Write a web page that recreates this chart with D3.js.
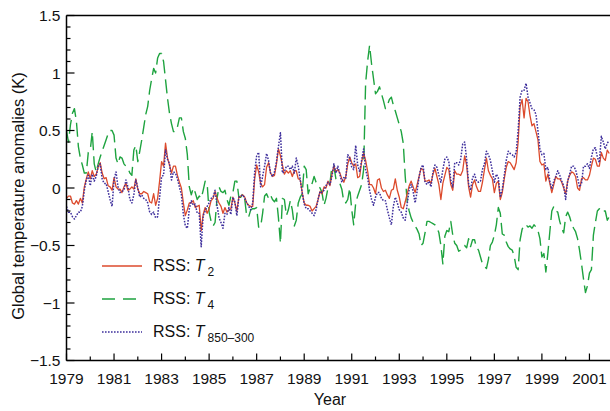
<!DOCTYPE html>
<html>
<head>
<meta charset="utf-8">
<script src="https://cdn.jsdelivr.net/npm/d3@7"></script>
<style>
  html, body { margin: 0; padding: 0; background: #fff; }
  svg { display: block; font-family: "Liberation Sans", Arial, Helvetica, sans-serif; }
</style>
</head>
<body>
<svg id="chart" width="610" height="411"></svg>
<script>
// ---- data (monthly anomalies, K), Jan 1979 onward ----
const startYear = 1979;
const seriesNames = ["T2", "T4", "T850-300"];

const t2 = [
-0.09,-0.07,-0.07,-0.13,-0.14,-0.11,-0.14,-0.09,-0.13,0.01,
0.08,0.14,0.08,0.15,0.10,0.12,0.18,0.22,0.13,0.08,
0.09,0.02,0.01,-0.02,0.09,0.01,-0.01,-0.01,-0.04,0.01,
0.04,-0.02,-0.01,0.01,-0.01,0.08,-0.01,-0.05,-0.05,-0.03,
-0.04,-0.05,-0.12,-0.13,-0.05,-0.15,-0.09,0.06,0.23,0.19,
0.39,0.26,0.20,0.13,0.19,0.19,0.11,0.05,0.00,-0.13,
-0.24,-0.19,-0.13,-0.13,-0.11,-0.17,-0.16,-0.15,-0.37,-0.23,
-0.17,-0.22,-0.18,-0.11,-0.09,-0.03,-0.09,-0.13,-0.16,-0.22,
-0.17,-0.21,-0.19,-0.18,-0.08,-0.13,-0.20,-0.08,-0.07,-0.06,
-0.08,-0.13,-0.15,-0.16,-0.16,0.08,0.20,0.14,0.04,0.01,
0.03,0.18,0.22,0.13,0.10,0.11,0.21,0.34,0.28,0.20,
0.12,0.15,0.13,0.15,0.10,0.15,0.15,0.08,0.07,-0.04,
-0.13,-0.15,-0.15,-0.16,-0.20,-0.18,-0.16,-0.10,-0.03,-0.05,
0.01,0.00,0.06,0.02,0.12,0.19,0.14,0.16,0.13,0.08,
0.05,0.10,0.21,0.27,0.22,0.19,0.21,0.09,0.10,0.23,
0.30,0.24,0.15,0.03,0.03,0.00,-0.05,0.07,0.08,0.00,
-0.03,-0.02,-0.06,-0.09,-0.02,-0.01,0.08,-0.02,-0.08,-0.17,
-0.18,-0.12,-0.05,0.02,0.06,0.01,-0.04,0.03,0.10,0.17,
0.16,0.06,0.06,0.07,0.04,0.12,0.17,0.10,0.03,-0.10,
0.04,0.11,0.18,0.16,0.03,-0.02,0.15,0.12,0.12,0.11,
0.15,0.28,0.20,0.01,-0.08,0.03,0.07,0.01,-0.03,-0.03,
0.05,0.16,0.26,0.15,0.11,0.08,-0.04,0.04,0.06,-0.10,
-0.04,0.08,0.18,0.23,0.22,0.19,0.16,0.22,0.40,0.71,
0.77,0.61,0.78,0.75,0.63,0.54,0.56,0.49,0.42,0.23,
0.20,0.21,0.06,0.12,0.04,-0.04,0.03,0.10,0.08,0.08,
0.05,0.00,-0.05,0.06,0.11,0.14,0.13,0.10,0.00,-0.02,
0.08,0.09,0.07,0.07,0.11,0.19,0.26,0.25,0.19,0.19,
0.31,0.26,0.24,0.33,0.30];

const t4 = [
0.50,0.40,0.55,0.65,0.69,0.58,0.36,0.26,0.20,0.13,
0.13,0.31,0.33,0.49,0.21,0.14,0.21,0.27,0.32,0.37,
0.42,0.47,0.50,0.50,0.46,0.26,0.21,0.27,0.26,0.21,
0.19,0.17,0.13,0.11,0.33,0.37,0.23,0.32,0.42,0.53,
0.64,0.71,0.85,0.95,1.04,1.00,1.13,1.17,1.17,1.10,
0.94,0.78,0.65,0.56,0.49,0.49,0.53,0.61,0.61,0.49,
0.43,0.29,0.01,-0.06,0.00,-0.04,-0.10,-0.07,-0.09,-0.02,
0.06,0.04,-0.21,-0.29,-0.33,-0.30,-0.09,0.01,-0.03,-0.04,
-0.02,-0.10,-0.15,-0.07,-0.04,0.06,0.06,-0.08,-0.08,-0.05,
-0.10,-0.25,-0.25,-0.19,-0.18,-0.18,-0.17,-0.34,-0.34,-0.22,
-0.07,-0.05,-0.09,-0.06,-0.10,-0.12,-0.09,-0.26,-0.48,-0.09,
-0.10,-0.24,-0.19,-0.11,-0.19,-0.33,-0.28,-0.13,-0.08,-0.05,
0.19,0.16,-0.05,0.00,0.04,0.10,0.05,0.02,0.00,-0.04,
-0.15,-0.09,0.00,0.04,0.19,0.19,0.08,0.06,0.04,-0.01,
-0.12,-0.13,-0.10,0.00,-0.19,-0.32,-0.13,-0.07,-0.02,0.03,
0.16,0.91,1.10,1.24,1.08,0.95,0.82,0.84,0.88,0.82,
0.76,0.69,0.72,0.77,0.79,0.72,0.67,0.61,0.55,0.49,
0.39,0.10,-0.12,-0.20,-0.26,-0.30,-0.33,-0.36,-0.40,-0.50,
-0.48,-0.39,-0.29,-0.29,-0.30,-0.31,-0.32,-0.34,-0.39,-0.50,
-0.66,-0.42,-0.37,-0.38,-0.29,-0.41,-0.48,-0.50,-0.55,-0.54,
-0.52,-0.50,-0.52,-0.44,-0.51,-0.45,-0.45,-0.52,-0.54,-0.60,
-0.66,-0.68,-0.70,-0.62,-0.50,-0.47,-0.41,-0.32,-0.17,-0.22,
-0.40,-0.41,-0.47,-0.51,-0.53,-0.54,-0.59,-0.69,-0.71,-0.45,
-0.36,-0.32,-0.32,-0.34,-0.33,-0.35,-0.32,-0.34,-0.37,-0.44,
-0.60,-0.57,-0.73,-0.57,-0.38,-0.20,-0.16,-0.20,-0.21,-0.29,
-0.35,-0.39,-0.25,-0.21,-0.25,-0.31,-0.35,-0.38,-0.44,-0.54,
-0.66,-0.79,-0.91,-0.85,-0.74,-0.71,-0.41,-0.30,-0.20,-0.18,
-0.21,-0.20,-0.20,-0.28,-0.25];

const t850 = [
-0.16,-0.21,-0.21,-0.25,-0.27,-0.24,-0.21,-0.21,-0.16,-0.02,
0.07,0.11,0.02,0.12,0.06,0.10,0.19,0.21,0.08,0.04,
0.04,-0.03,-0.10,-0.16,0.07,0.14,0.01,-0.04,-0.03,-0.02,
0.07,0.01,-0.10,-0.13,-0.06,0.07,0.00,-0.08,-0.06,-0.09,
-0.10,-0.13,-0.21,-0.23,-0.21,-0.26,-0.25,-0.08,0.10,0.11,
0.33,0.25,0.21,0.07,0.14,0.13,0.08,0.01,-0.06,-0.23,
-0.33,-0.35,-0.18,-0.11,-0.15,-0.14,-0.22,-0.22,-0.51,-0.24,
-0.20,-0.16,-0.13,-0.09,-0.08,-0.02,-0.15,-0.26,-0.30,-0.35,
-0.22,-0.23,-0.17,-0.23,-0.08,-0.12,-0.24,-0.08,-0.07,-0.06,
-0.09,-0.13,-0.16,-0.19,-0.13,0.14,0.28,0.31,0.01,0.10,
0.19,0.30,0.24,0.13,0.10,0.14,0.23,0.36,0.48,0.13,
0.14,0.19,0.19,0.16,0.19,0.13,0.26,0.19,0.07,-0.04,
-0.14,-0.18,-0.18,-0.20,-0.22,-0.24,-0.19,-0.10,-0.03,-0.04,
-0.02,0.02,0.05,0.03,0.10,0.21,0.13,0.19,0.12,0.05,
0.09,0.08,0.29,0.26,0.18,0.16,0.37,0.20,0.14,0.24,
0.34,0.16,0.09,-0.02,-0.10,-0.15,-0.08,-0.04,-0.04,-0.09,
-0.11,-0.11,-0.19,-0.26,-0.32,-0.16,-0.08,-0.13,-0.19,-0.21,
-0.26,-0.28,-0.14,-0.01,0.03,-0.03,-0.13,-0.03,0.10,0.18,
0.20,0.05,0.03,0.06,0.01,0.14,0.20,0.18,0.11,0.05,
0.16,0.25,0.27,0.23,0.07,0.01,0.22,0.22,0.20,0.25,
0.38,0.40,0.25,0.04,-0.02,0.09,0.12,0.06,0.05,0.06,
0.16,0.21,0.32,0.29,0.24,0.15,0.05,0.12,0.09,-0.08,
-0.01,0.11,0.24,0.32,0.30,0.29,0.27,0.31,0.50,0.79,
0.85,0.85,0.91,0.79,0.74,0.69,0.68,0.64,0.50,0.34,
0.29,0.30,0.16,0.18,0.06,-0.01,0.06,0.10,0.15,0.11,
0.06,0.02,-0.10,0.06,0.12,0.19,0.19,0.16,0.09,0.01,
0.04,0.19,0.19,0.21,0.17,0.27,0.34,0.35,0.27,0.22,
0.45,0.40,0.34,0.39,0.41];

// time of each monthly value (decimal year)
const months = t2.map((_, i) => startYear + i / 12);

const yearTicks = d3.range(1979, 2003);          // one tick per year
const yearLabels = d3.range(1979, 2002, 2);       // labelled odd years
const yMajor = [-1.5, -1, -0.5, 0, 0.5, 1, 1.5];
const yMinor = d3.range(-15, 16).map(d => d / 10);
const legendSubs = ["2", "4", "850\u2013300"];

// ---- layout ----
const svg = d3.select("#chart");
const W = 610, H = 411;
const leftX = 66.5, topY = 15.5, bottomY = 360.5;
const pxPerYear = 23.77;

const x = d3.scaleLinear().domain([1979, 2002]).range([leftX, leftX + 23 * pxPerYear]);
const y = d3.scaleLinear().domain([-1.5, 1.5]).range([bottomY, topY]);

const fmtY = d => d === 0 ? "0" : String(d).replace("-", "\u2212");

svg.append("defs").append("clipPath").attr("id", "plotclip")
  .append("rect").attr("x", leftX).attr("y", topY).attr("width", W - leftX).attr("height", bottomY - topY);

const sT2  = { values: t2,   color: "#dc4a2c", dash: null,      width: 1.3 };
const sT4  = { values: t4,   color: "#1ea33f", dash: "14,6",    width: 1.4 };
const sT85 = { values: t850, color: "#3e2f9c", dash: "1.6,1.4", width: 1.5 };
const drawOrder = [sT4, sT2, sT85];
const legendSeries = [sT2, sT4, sT85];

const line = d3.line().x((d, i) => x(months[i])).y(d => y(d));

const g = svg.append("g").attr("clip-path", "url(#plotclip)");
drawOrder.forEach(s => {
  g.append("path")
    .datum(s.values)
    .attr("d", line)
    .attr("fill", "none")
    .attr("stroke", s.color)
    .attr("stroke-width", s.width)
    .attr("stroke-linejoin", "round")
    .attr("stroke-dasharray", s.dash);
});

// X axis ticks (inward)
const xAxis = svg.append("g").attr("transform", `translate(0,${bottomY})`);
xAxis.selectAll("line").data(yearTicks.filter(d => x(d) <= W)).enter().append("line")
  .attr("x1", d => x(d)).attr("x2", d => x(d))
  .attr("y1", 0).attr("y2", d => (d % 2 === 1) ? -7 : -4)
  .attr("stroke", "#000").attr("stroke-width", 1.2);
xAxis.selectAll("text").data(yearLabels).enter().append("text")
  .attr("x", d => x(d)).attr("y", 23)
  .attr("text-anchor", "middle")
  .attr("font-size", 15.5).attr("fill", "#111")
  .text(d => d);

// Y axis ticks (inward)
const yAxis = svg.append("g").attr("transform", `translate(${leftX},0)`);
yAxis.selectAll("line").data(yMinor).enter().append("line")
  .attr("x1", 0).attr("x2", d => (Math.abs(Math.round(d * 10)) % 5 === 0) ? 8 : 4)
  .attr("y1", d => y(d)).attr("y2", d => y(d))
  .attr("stroke", "#000").attr("stroke-width", 1.2);
yAxis.selectAll("text").data(yMajor).enter().append("text")
  .attr("x", -6).attr("y", d => y(d)).attr("dy", "0.36em")
  .attr("text-anchor", "end")
  .attr("font-size", 15.5).attr("fill", "#111")
  .text(fmtY);

// frame lines
svg.append("line").attr("x1", leftX).attr("x2", leftX).attr("y1", topY).attr("y2", bottomY)
  .attr("stroke", "#000").attr("stroke-width", 1.5);
svg.append("line").attr("x1", leftX).attr("x2", W).attr("y1", bottomY).attr("y2", bottomY)
  .attr("stroke", "#000").attr("stroke-width", 1.5);
svg.append("line").attr("x1", leftX).attr("x2", W).attr("y1", topY).attr("y2", topY)
  .attr("stroke", "#000").attr("stroke-width", 1.5);

// axis titles
svg.append("text").attr("x", 330).attr("y", 405)
  .attr("text-anchor", "middle").attr("font-size", 16).attr("fill", "#111").text("Year");
svg.append("text").attr("transform", "translate(24,196) rotate(-90)")
  .attr("text-anchor", "middle").attr("font-size", 16.5).attr("fill", "#111")
  .text("Global temperature anomalies (K)");

// legend
const legendY = [266, 299, 332];
legendSeries.forEach((s, i) => {
  const lg = svg.append("g");
  lg.append("line").attr("x1", 102).attr("x2", 142)
    .attr("y1", legendY[i]).attr("y2", legendY[i])
    .attr("stroke", s.color).attr("stroke-width", s.width)
    .attr("stroke-dasharray", s === sT4 ? "13,8" : s.dash);
  const t = lg.append("text").attr("x", 153).attr("y", legendY[i] + 5)
    .attr("font-size", 16).attr("fill", "#111");
  t.append("tspan").text("RSS: ");
  t.append("tspan").attr("font-style", "italic").text("T");
  t.append("tspan").attr("font-size", 12).attr("dx", 3).attr("dy", 5).text(legendSubs[i]);
});
</script>
</body>
</html>
